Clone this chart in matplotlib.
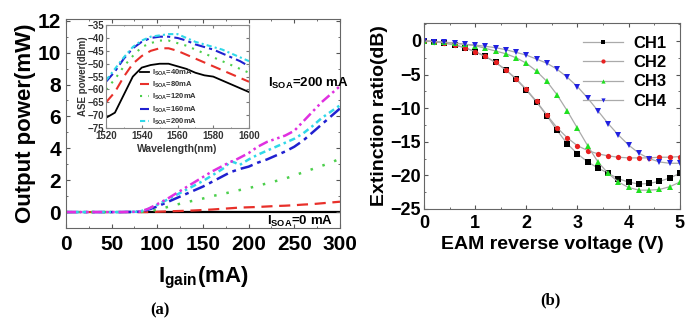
import numpy as np
import matplotlib
matplotlib.use("Agg")
import matplotlib.pyplot as plt
from matplotlib.ticker import MultipleLocator

plt.rcParams['font.family'] = ['Liberation Sans', 'DejaVu Sans']
plt.rcParams['font.weight'] = 'bold'
plt.rcParams['mathtext.fontset'] = 'custom'
plt.rcParams['mathtext.bf'] = 'Liberation Sans:bold'
plt.rcParams['mathtext.rm'] = 'Liberation Sans:bold'
plt.rcParams['mathtext.default'] = 'bf'

# (a) output power vs gain current
igain = [0, 20, 40, 60, 80, 90, 100, 110, 120, 130, 140, 150, 160, 170, 175,
         180, 185, 190, 200, 210, 220, 230, 240, 250, 260, 270, 280, 290, 300]
p_0ma = [np.nan, np.nan, np.nan, np.nan, 0, 0, 0, 0, 0, 0, 0, 0, 0, 0, 0,
         0, 0, 0, 0, 0, 0, 0, 0, 0, 0, 0, 0, 0, 0]
p_50ma = [0, 0, 0, 0, 0, 0, 0.02, 0.04, 0.06, 0.08, 0.1, 0.13, 0.16, 0.2, 0.22,
          0.24, 0.26, 0.28, 0.3, 0.32, 0.35, 0.38, 0.4, 0.43, 0.47, 0.5, 0.55, 0.6, 0.65]
p_100ma = [0, 0, 0, 0, 0, 0.05, 0.15, 0.3, 0.45, 0.6, 0.72, 0.85, 1.0, 1.12, 1.18,
           1.25, 1.32, 1.38, 1.5, 1.65, 1.8, 1.95, 2.1, 2.3, 2.5, 2.7, 2.9, 3.1, 3.35]
p_150ma = [0, 0, 0, 0, 0.02, 0.15, 0.35, 0.6, 0.85, 1.1, 1.35, 1.6, 1.9, 2.2, 2.35,
           2.5, 2.6, 2.7, 2.85, 3.1, 3.3, 3.55, 3.8, 4.1, 4.5, 5.0, 5.5, 6.0, 6.5]
p_175ma = [0, 0, 0, 0, 0.02, 0.2, 0.45, 0.75, 1.05, 1.35, 1.65, 1.95, 2.3, 2.65, 2.85,
           3.2, 3.1, 2.95, 3.3, 3.6, 3.85, 4.1, 4.35, 4.6, 4.95, 5.4, 5.9, 6.3, 6.7]
p_200ma = [0, 0, 0, 0, 0.02, 0.2, 0.5, 0.8, 1.15, 1.5, 1.85, 2.2, 2.55, 2.85, 3.0,
           3.15, 3.25, 3.4, 3.7, 4.1, 4.4, 4.6, 4.8, 5.1, 5.7, 6.3, 6.9, 7.4, 7.9]

# inset: ASE spectra
wavelength = [1520, 1525, 1530, 1535, 1540, 1545, 1550, 1555, 1560,
              1565, 1570, 1575, 1580, 1585, 1590, 1595, 1600]
ase_40 = [-71, -69, -62, -55, -51.5, -50.5, -50, -50, -51, -52, -53.5, -54.5, -55, -56.5, -58, -59.5, -61]
ase_80 = [-65, -61, -55, -50, -47, -45, -44, -44, -45, -46.5, -48, -49.5, -51, -52.5, -54, -55.5, -57]
ase_120 = [-60, -56, -51, -47, -43.5, -42, -41, -41, -42, -43, -44.5, -46, -47.5, -49, -50.5, -52, -53.5]
ase_160 = [-57, -53, -48, -44, -41.5, -40, -39.5, -39.5, -40, -41, -42.5, -43.5, -44.5, -46, -47.5, -49, -51]
ase_200 = [-56.5, -52, -47.5, -43.5, -41, -39.5, -39, -38.5, -38.5, -40, -41.5, -42.5, -43.5, -44.5, -46, -47.5, -49]
ase_labels = ["40mA", "80mA", "120mA", "160mA", "200mA"]

# (b) extinction ratio vs EAM voltage
voltage = [0, 0.2, 0.4, 0.6, 0.8, 1.0, 1.2, 1.4, 1.6, 1.8, 2.0, 2.2, 2.4,
           2.6, 2.8, 3.0, 3.2, 3.4, 3.6, 3.8, 4.0, 4.2, 4.4, 4.6, 4.8, 5.0]
ch1 = [0, -0.1, -0.3, -0.6, -1.0, -1.6, -2.3, -3.2, -4.3, -5.7, -7.3, -9.1, -11.1,
       -13.3, -15.3, -16.8, -18.0, -18.9, -19.7, -20.5, -21.0, -21.3, -21.2, -20.9, -20.4, -19.7]
ch2 = [0, -0.1, -0.3, -0.6, -1.0, -1.6, -2.3, -3.2, -4.3, -5.6, -7.2, -9.0, -11.0,
       -12.9, -14.4, -15.6, -16.3, -16.8, -17.1, -17.3, -17.4, -17.4, -17.4, -17.3, -17.3, -17.2]
ch3 = [0, -0.1, -0.2, -0.3, -0.5, -0.7, -1.1, -1.5, -1.9, -2.5, -3.3, -4.5, -6.0,
       -8.0, -10.4, -13.0, -15.6, -18.0, -19.7, -21.0, -21.8, -22.2, -22.2, -22.1, -21.7, -21.0]
ch4 = [0, -0.1, -0.2, -0.3, -0.5, -0.6, -0.8, -1.0, -1.3, -1.7, -2.1, -2.7, -3.3,
       -4.2, -5.4, -6.8, -8.5, -10.4, -12.3, -14.0, -15.5, -16.7, -17.5, -18.0, -18.2, -18.2]
ch_labels = ["CH1", "CH2", "CH3", "CH4"]

fig = plt.figure(figsize=(6.86, 3.26), dpi=100)

# ---- panel (a)
ax = fig.add_axes([0.0962, 0.3006, 0.3994, 0.6405])
ax.plot(igain, p_0ma, color="black", lw=1.6, zorder=1)
ax.plot(igain, p_50ma, color="#e8302a", lw=1.6, ls=(0, (5, 3)))
ax.plot(igain, p_100ma, color="#4ccf4c", lw=1.8, ls=(0, (1, 4)))
ax.plot(igain, p_150ma, color="#2020d0", lw=1.8, ls=(0, (5, 2, 1.5, 2)))
ax.plot(igain, p_175ma, color="#30d8e8", lw=1.8, ls=(0, (2.5, 1.5, 1, 1.5)))
ax.plot(igain, p_200ma, color="#e030e0", lw=1.8, ls=(0, (4, 1.5, 1, 1.5, 1, 1.5)))
ax.set_xlim(0, 300)
ax.set_ylim(-1, 12.1)
ax.xaxis.set_major_locator(MultipleLocator(50))
ax.xaxis.set_minor_locator(MultipleLocator(25))
ax.yaxis.set_major_locator(MultipleLocator(2))
ax.yaxis.set_minor_locator(MultipleLocator(1))
ax.tick_params(which="both", direction="in", top=True, right=True, labelsize=15,
               colors="#555555", labelcolor="black")
ax.tick_params(which="major", length=3)
ax.tick_params(which="minor", length=1.5)
ax.tick_params(axis="x", pad=5)
for s in ax.spines.values():
    s.set_color("#666666")
ax.set_ylabel("Output power(mW)", fontsize=16, fontweight="bold", labelpad=1)
ax.set_xlabel(r"I$_{gain}$(mA)", fontsize=16, fontweight="bold", labelpad=8)
ax.text(221, 8.1, r"I$_{SOA}$=200 mA", fontsize=9.5, fontweight="bold", va="center")
ax.text(220, -0.1, r"I$_{SOA}$=0 mA", fontsize=9.5, fontweight="bold", va="top")

# ---- inset
ins = fig.add_axes([0.1545, 0.607, 0.2085, 0.316])
ins.plot(wavelength, ase_40, color="black", lw=1.3)
ins.plot(wavelength, ase_80, color="#e8302a", lw=1.5, ls=(0, (5, 3)))
ins.plot(wavelength, ase_120, color="#4ccf4c", lw=1.5, ls=(0, (1, 3)))
ins.plot(wavelength, ase_160, color="#2020d0", lw=1.5, ls=(0, (5, 2, 1.5, 2)))
ins.plot(wavelength, ase_200, color="#30d8e8", lw=1.5, ls=(0, (2.5, 1.5, 1, 1.5)))
ins.set_xlim(1520, 1600)
ins.set_ylim(-75, -35)
ins.xaxis.set_major_locator(MultipleLocator(20))
ins.xaxis.set_minor_locator(MultipleLocator(10))
ins.yaxis.set_major_locator(MultipleLocator(5))
ins.tick_params(which="both", direction="in", top=True, right=True, labelsize=7,
                colors="#777777", labelcolor="#333333", pad=1)
ins.tick_params(axis="x", pad=2)
ins.tick_params(which="major", length=2)
ins.tick_params(which="minor", length=1)
for s in ins.spines.values():
    s.set_color("#888888")
ins.set_xlabel("Wavelength(nm)", fontsize=7.5, fontweight="bold", color="#333333", labelpad=2)
ins.set_ylabel("ASE power(dBm)", fontsize=7, fontweight="bold", color="#333333", labelpad=0)
ins.legend([r"I$_{SOA}$=" + s for s in ase_labels], loc="lower left",
           bbox_to_anchor=(0.2, -0.04), frameon=False, fontsize=5.5,
           handlelength=1.2, handletextpad=0.4, labelspacing=0.28,
           borderpad=0.2, labelcolor="#333333")

# ---- panel (b)
bx = fig.add_axes([0.618, 0.359, 0.373, 0.571])
line_kw = dict(color="#aaaaaa", lw=0.9, ms=3.8, mew=0)
bx.plot(voltage, ch1, marker="s", mfc="black", label=ch_labels[0], **line_kw)
bx.plot(voltage, ch2, marker="o", mfc="#e82020", label=ch_labels[1], **line_kw)
bx.plot(voltage, ch3, marker="^", mfc="#20e020", label=ch_labels[2], **line_kw)
bx.plot(voltage, ch4, marker="v", mfc="#2020e0", label=ch_labels[3], **line_kw)
bx.set_xlim(0, 5)
bx.set_ylim(-25, 2.7)
bx.xaxis.set_major_locator(MultipleLocator(1))
bx.xaxis.set_minor_locator(MultipleLocator(0.5))
bx.yaxis.set_major_locator(MultipleLocator(5))
bx.yaxis.set_minor_locator(MultipleLocator(2.5))
bx.tick_params(which="both", direction="in", top=True, right=True, labelsize=13,
               colors="#555555", labelcolor="black", pad=2)
bx.tick_params(axis="x", pad=4)
bx.tick_params(which="major", length=3)
bx.tick_params(which="minor", length=1.5)
for s in bx.spines.values():
    s.set_color("#666666")
bx.set_ylabel("Extinction ratio(dB)", fontsize=14, fontweight="bold", labelpad=2)
bx.set_xlabel("EAM reverse voltage (V)", fontsize=14, fontweight="bold", labelpad=3)
bx.legend(loc="upper right", frameon=False, fontsize=12, handlelength=2.4,
          handletextpad=0.6, labelspacing=0.25, borderpad=0.3, markerscale=0.8)

fig.text(0.233, 0.049, "(a)", fontsize=12, fontweight="bold",
         family=["Liberation Serif"], ha="center", va="center")
fig.text(0.802, 0.08, "(b)", fontsize=12, fontweight="bold",
         family=["Liberation Serif"], ha="center", va="center")

fig.savefig("out.png", dpi=100)
